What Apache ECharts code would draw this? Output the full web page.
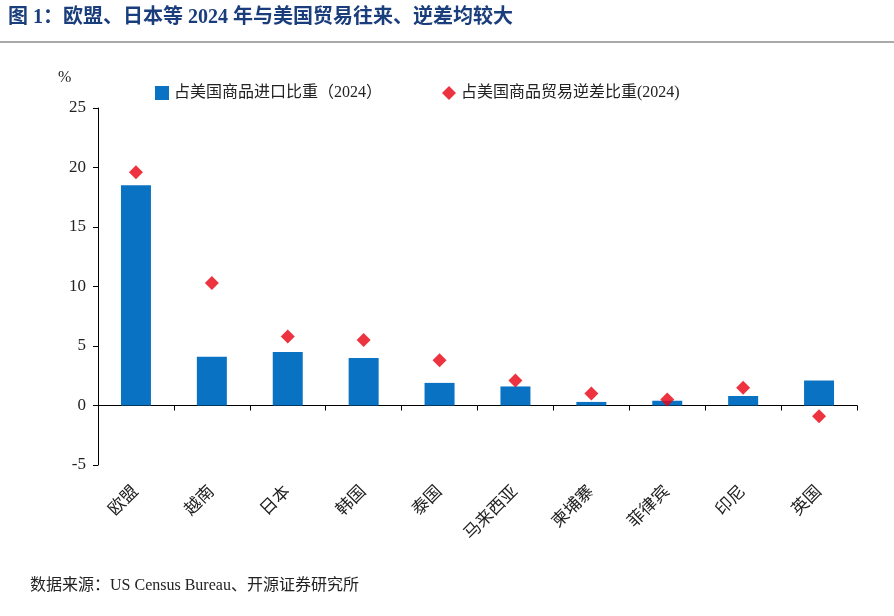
<!DOCTYPE html>
<html><head><meta charset="utf-8">
<script src="https://cdn.jsdelivr.net/npm/echarts@6/dist/echarts.min.js"></script>
<style>html,body{margin:0;padding:0;background:#fff}#c{width:894px;height:616px}</style>
</head><body><div id="c"></div>
<script>
const categories = ['欧盟','越南','日本','韩国','泰国','马来西亚','柬埔寨','菲律宾','印尼','英国'];
const importShare = [18.5, 4.1, 4.5, 4.0, 1.9, 1.6, 0.3, 0.4, 0.8, 2.1];
const deficitShare = [19.6, 10.3, 5.8, 5.5, 3.8, 2.1, 1.0, 0.5, 1.5, -0.9];
const seriesNames = ['占美国商品进口比重（2024）','占美国商品贸易逆差比重(2024)'];
const font = '"Liberation Serif","Noto Sans CJK SC",serif';
const chart = echarts.init(document.getElementById('c'));
chart.setOption({
  animation:false,
  textStyle:{fontFamily:font},
  graphic:[
    {type:'text',left:8,top:8,style:{text:'图 1：欧盟、日本等 2024 年与美国贸易往来、逆差均较大',fontSize:20,fontWeight:'bold',fill:'#1a3d7c',fontFamily:font}},
    {type:'line',shape:{x1:0,y1:42,x2:894,y2:42},style:{stroke:'#555',lineWidth:1}},
    {type:'text',left:30,top:578,style:{text:'数据来源：US Census Bureau、开源证券研究所',fontSize:16,fill:'#222',fontFamily:font}},
    {type:'text',left:58,top:70,style:{text:'%',fontSize:16,fill:'#222',fontFamily:font}}
  ],
  legend:{top:80,left:150,itemGap:60,itemWidth:14,itemHeight:14,
    textStyle:{fontSize:16,color:'#222',fontFamily:font},
    data:[{name:seriesNames[0],icon:'rect'},{name:seriesNames[1],icon:'diamond'}]},
  grid:{left:98,right:37,top:108,bottom:151},
  xAxis:{type:'category',data:categories,
    axisLine:{onZero:true,lineStyle:{color:'#000'}},
    axisTick:{show:true,length:5,lineStyle:{color:'#000'}},
    axisLabel:{rotate:45,fontSize:17,color:'#222',margin:24,interval:0,fontFamily:font}},
  yAxis:{type:'value',min:-5,max:25,interval:5,splitLine:{show:false},
    axisLine:{show:true,lineStyle:{color:'#000'}},
    axisTick:{show:true,inside:false,length:5,lineStyle:{color:'#000'}},
    axisLabel:{fontSize:17,color:'#222',fontFamily:font,margin:12}},
  series:[
    {name:seriesNames[0],type:'bar',data:importShare,barWidth:30,itemStyle:{color:'#0a72c2'}},
    {name:seriesNames[1],type:'scatter',data:deficitShare,symbol:'diamond',symbolSize:14,itemStyle:{color:'#e8000f'}}
  ]
});
</script></body></html>
